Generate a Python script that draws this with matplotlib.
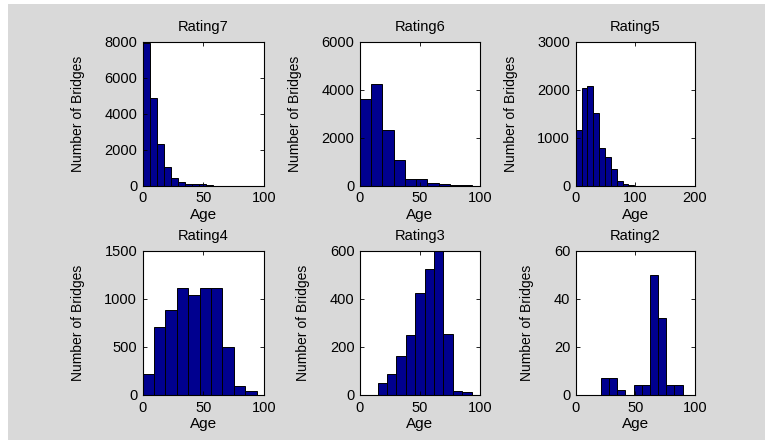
import numpy as np
import matplotlib
matplotlib.use("Agg")
import matplotlib.pyplot as plt
from matplotlib.patches import Rectangle

plt.rcParams['font.family'] = ['Liberation Sans', 'DejaVu Sans']

# Histogram counts per condition rating (10 equal-width age bins each)
titles = ["Rating7", "Rating6", "Rating5", "Rating4", "Rating3", "Rating2"]

r7_range = (0, 58)
r7_counts = [7950, 4850, 2340, 1050, 420, 185, 90, 80, 75, 55]

r6_range = (0, 93.6)
r6_counts = [3630, 4230, 2320, 1050, 262, 262, 122, 75, 45, 30]

r5_range = (0, 98.2)
r5_counts = [1160, 2025, 2075, 1520, 790, 590, 340, 98, 28, 15]

r4_range = (0, 93.9)
r4_counts = [215, 708, 888, 1112, 1038, 1112, 1112, 500, 97, 45]

r3_range = (14.7, 93.1)
r3_counts = [48, 86, 161, 248, 424, 523, 598, 255, 17, 11]

r2_range = (21.2, 89.6)
r2_counts = [7, 7, 2, 0, 4, 4, 50, 32, 4, 4]

ranges = [r7_range, r6_range, r5_range, r4_range, r3_range, r2_range]
counts = [r7_counts, r6_counts, r5_counts, r4_counts, r3_counts, r2_counts]

xlims = [(0, 100), (0, 100), (0, 200), (0, 100), (0, 100), (0, 100)]
xticks = [[0, 50, 100], [0, 50, 100], [0, 100, 200],
          [0, 50, 100], [0, 50, 100], [0, 50, 100]]
ylims = [(0, 8000), (0, 6000), (0, 3000), (0, 1500), (0, 600), (0, 60)]
yticks = [[0, 2000, 4000, 6000, 8000], [0, 2000, 4000, 6000],
          [0, 1000, 2000, 3000], [0, 500, 1000, 1500],
          [0, 200, 400, 600], [0, 20, 40, 60]]

W, H = 765, 443
fig = plt.figure(figsize=(W / 100, H / 100), dpi=100, facecolor="white")
fig.patches.append(Rectangle((8 / W, 3 / H), 1, 1 - 7 / H,
                             transform=fig.transFigure,
                             facecolor="#d9d9d9", edgecolor="none", zorder=-10))

col_lr = [(142.7, 264.0), (360.0, 480.0), (575.7, 695.0)]
row_tb = [(41.7, 185.7), (250.7, 395.0)]

bar_color = "#00008f"

for i in range(6):
    r, c = divmod(i, 3)
    l, rr = col_lr[c]
    t, b = row_tb[r]
    ax = fig.add_axes([l / W, 1 - b / H, (rr - l) / W, (b - t) / H])
    ax.set_facecolor("white")

    edges = np.linspace(ranges[i][0], ranges[i][1], len(counts[i]) + 1)
    ax.bar(edges[:-1], counts[i], width=np.diff(edges), align="edge",
           color=bar_color, edgecolor="black", linewidth=0.7)

    ax.set_xlim(*xlims[i])
    ax.set_ylim(*ylims[i])
    ax.set_xticks(xticks[i])
    ax.set_yticks(yticks[i])
    ax.tick_params(direction="in", length=3, width=0.6, labelsize=10.5,
                   top=True, right=True, pad=4, colors="black")
    for s in ax.spines.values():
        s.set_linewidth(0.8)
        s.set_color("black")

    ax.set_title(titles[i], fontsize=10.5, pad=7.5)
    ax.set_xlabel("Age", fontsize=11, labelpad=2)
    ax.set_ylabel("Number of Bridges", fontsize=10, labelpad=14)

fig.savefig("out.png", dpi=100, facecolor=fig.get_facecolor())
